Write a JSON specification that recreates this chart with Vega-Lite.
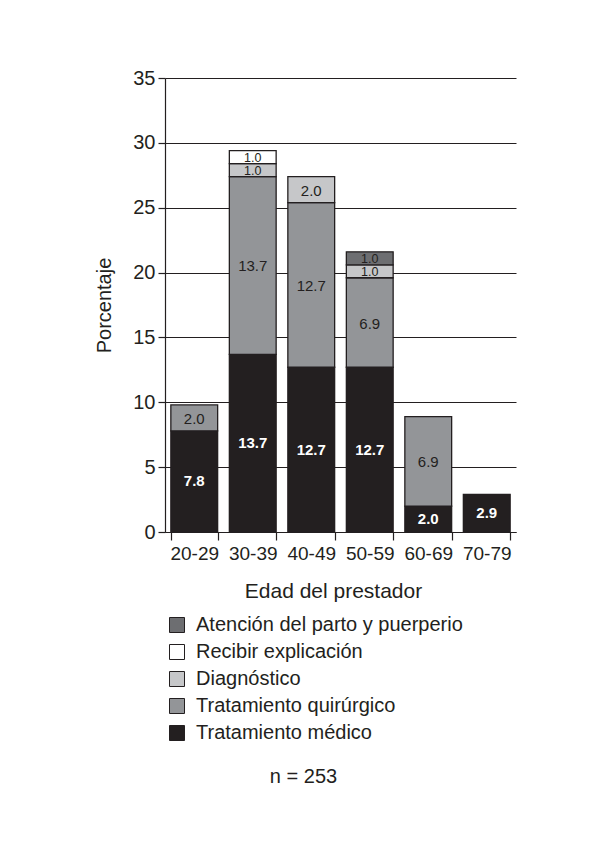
{
  "$schema": "https://vega.github.io/schema/vega-lite/v6.json",
  "width": 351,
  "height": 454,
  "autosize": {"type": "none"},
  "padding": {"left": 165, "top": 78, "right": 78, "bottom": 309},
  "background": "white",
  "title": {"text": "n = 253", "orient": "bottom", "anchor": "middle", "frame": "group", "dx": -37, "offset": 24, "fontSize": 20, "fontWeight": "normal", "font": "Liberation Sans", "color": "#231f20"},
  "data": {"values": [
    {"edad": "20-29", "tipo": "Tratamiento médico", "valor": 7.8},
    {"edad": "20-29", "tipo": "Tratamiento quirúrgico", "valor": 2.0},
    {"edad": "30-39", "tipo": "Tratamiento médico", "valor": 13.7},
    {"edad": "30-39", "tipo": "Tratamiento quirúrgico", "valor": 13.7},
    {"edad": "30-39", "tipo": "Diagnóstico", "valor": 1.0},
    {"edad": "30-39", "tipo": "Recibir explicación", "valor": 1.0},
    {"edad": "40-49", "tipo": "Tratamiento médico", "valor": 12.7},
    {"edad": "40-49", "tipo": "Tratamiento quirúrgico", "valor": 12.7},
    {"edad": "40-49", "tipo": "Diagnóstico", "valor": 2.0},
    {"edad": "50-59", "tipo": "Tratamiento médico", "valor": 12.7},
    {"edad": "50-59", "tipo": "Tratamiento quirúrgico", "valor": 6.9},
    {"edad": "50-59", "tipo": "Diagnóstico", "valor": 1.0},
    {"edad": "50-59", "tipo": "Atención del parto y puerperio", "valor": 1.0},
    {"edad": "60-69", "tipo": "Tratamiento médico", "valor": 2.0},
    {"edad": "60-69", "tipo": "Tratamiento quirúrgico", "valor": 6.9},
    {"edad": "70-79", "tipo": "Tratamiento médico", "valor": 2.9}
  ]},
  "transform": [
    {"calculate": "indexof(['Tratamiento médico','Tratamiento quirúrgico','Diagnóstico','Recibir explicación','Atención del parto y puerperio'], datum.tipo)", "as": "orden"},
    {"stack": "valor", "groupby": ["edad"], "sort": [{"field": "orden", "order": "ascending"}], "as": ["y0", "y1"]},
    {"calculate": "(datum.y0 + datum.y1) / 2", "as": "ymid"}
  ],
  "encoding": {
    "x": {
      "field": "edad", "type": "nominal",
      "scale": {"paddingInner": 0.2, "paddingOuter": 0.1},
      "axis": {
        "title": "Edad del prestador", "labelAngle": 0, "tickBand": "extent",
        "tickSize": 8, "labelPadding": 4, "labelFontSize": 19, "labelFont": "Liberation Sans", "labelColor": "#231f20",
        "titleFontSize": 21, "titleFont": "Liberation Sans", "titleFontWeight": "normal", "titleColor": "#231f20",
        "titleX": 168, "titleY": 59, "titleBaseline": "middle",
        "domainColor": "#231f20", "domainWidth": 1.2, "tickColor": "#231f20", "tickWidth": 1.2
      }
    }
  },
  "layer": [
    {
      "mark": {"type": "bar", "stroke": "#231f20", "strokeWidth": 1.3},
      "encoding": {
        "y": {
          "field": "y0", "type": "quantitative",
          "scale": {"domain": [0, 35], "nice": false},
          "axis": {
            "title": "Porcentaje", "values": [0, 5, 10, 15, 20, 25, 30, 35],
            "grid": true, "gridColor": "#231f20", "gridWidth": 1,
            "tickSize": 7, "labelPadding": 3, "labelFontSize": 20, "labelFont": "Liberation Sans", "labelColor": "#231f20",
            "titleFontSize": 20, "titleFont": "Liberation Sans", "titleFontWeight": "normal", "titleColor": "#231f20",
            "titleX": -61, "titleY": 227, "titleBaseline": "middle", "titleAlign": "center", "titleAngle": -90,
            "domainColor": "#231f20", "domainWidth": 1.2, "tickColor": "#231f20", "tickWidth": 1.2
          }
        },
        "y2": {"field": "y1"},
        "color": {
          "field": "tipo", "type": "nominal",
          "scale": {
            "domain": ["Atención del parto y puerperio", "Recibir explicación", "Diagnóstico", "Tratamiento quirúrgico", "Tratamiento médico"],
            "range": ["#6d6e71", "#ffffff", "#c6c7c9", "#939598", "#231f20"]
          },
          "legend": {
            "orient": "none", "legendX": 2, "legendY": 537, "title": null, "padding": 0,
            "symbolType": "square", "symbolSize": 225, "symbolStrokeColor": "#231f20", "symbolStrokeWidth": 1,
            "labelFontSize": 20, "labelFont": "Liberation Sans", "labelColor": "#231f20", "labelOffset": 9,
            "rowPadding": 7, "labelLimit": 400
          }
        }
      }
    },
    {
      "transform": [{"filter": "datum.tipo !== 'Tratamiento médico'"}],
      "mark": {"type": "text", "font": "Liberation Sans", "color": "#231f20", "baseline": "middle", "dy": 1},
      "encoding": {
        "y": {"field": "ymid", "type": "quantitative"},
        "text": {"field": "valor", "type": "quantitative", "format": ".1f"},
        "size": {"condition": {"test": "datum.valor <= 1", "value": 12.5}, "value": 15}
      }
    },
    {
      "transform": [{"filter": "datum.tipo === 'Tratamiento médico'"}],
      "mark": {"type": "text", "fontSize": 15, "font": "Liberation Sans", "fontWeight": "bold", "color": "#ffffff", "baseline": "middle"},
      "encoding": {
        "y": {"field": "ymid", "type": "quantitative"},
        "text": {"field": "valor", "type": "quantitative", "format": ".1f"}
      }
    }
  ],
  "config": {"view": {"stroke": null}}
}
